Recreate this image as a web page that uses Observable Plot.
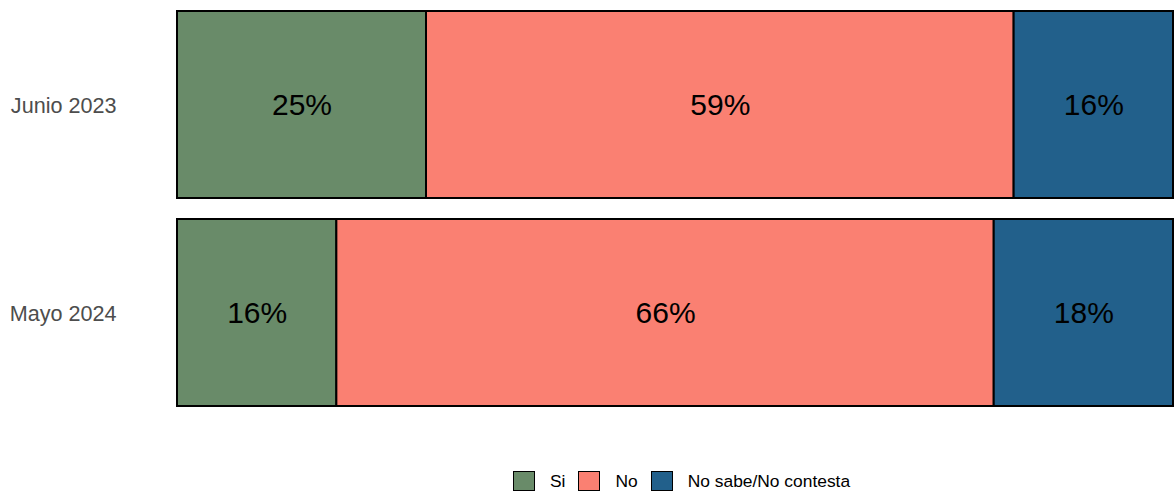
<!DOCTYPE html>
<html>
<head>
<meta charset="utf-8">
<script src="https://cdn.jsdelivr.net/npm/d3@7"></script>
<script src="https://cdn.jsdelivr.net/npm/@observablehq/plot@0.6"></script>
<style>
  html, body { margin: 0; padding: 0; background: #fff; }
  body { font-family: "Liberation Sans", Arial, sans-serif; width: 1174px; height: 491px; overflow: hidden; }
  #legend { display: flex; align-items: center; margin-left: 513px; margin-top: 10px; font-size: 17.4px; color: #000; height: 20px; }
  .sw { width: 20px; height: 18px; border: 1px solid #000; box-sizing: content-box; }
  .lab { margin-left: 15px; margin-right: 13px; }
</style>
</head>
<body>
<div id="chart"></div>
<div id="legend"></div>
<script>
const periods = ["Junio 2023", "Mayo 2024"];
const categories = ["Si", "No", "No sabe/No contesta"];
const colors = ["#698B69", "#FA8072", "#22608B"];
const values = {
  "Junio 2023": [25, 59, 16],
  "Mayo 2024": [16, 66, 18]
};

const data = [];
for (const p of periods) {
  categories.forEach((c, i) => data.push({period: p, category: c, value: values[p][i]}));
}

const plot = Plot.plot({
  width: 1174,
  height: 461,
  marginLeft: 177,
  marginRight: 1,
  marginTop: 10,
  marginBottom: 54,
  style: {fontFamily: "Liberation Sans, Arial, sans-serif", background: "#fff"},
  x: {domain: [0, 100], axis: null},
  y: {domain: periods, paddingInner: 0.1, paddingOuter: 0, label: null, tickSize: 0, tickPadding: 61},
  color: {domain: categories, range: colors},
  marks: [
    Plot.barX(data, Plot.stackX({x: "value", y: "period", fill: "category", stroke: "#000", strokeWidth: 2})),
    Plot.text(data, Plot.stackX({x: "value", y: "period", text: d => d.value + "%", fontSize: 30, fill: "#000"})),
    Plot.axisY({tickSize: 0, tickPadding: 61, fontSize: 21.6, fill: "#4D4D4D", label: null, dy: 1})
  ]
});
document.getElementById("chart").appendChild(plot);

const legend = document.getElementById("legend");
categories.forEach((c, i) => {
  const sw = document.createElement("div");
  sw.className = "sw";
  sw.style.background = colors[i];
  const lab = document.createElement("span");
  lab.className = "lab";
  lab.textContent = c;
  legend.appendChild(sw);
  legend.appendChild(lab);
});
</script>
</body>
</html>
